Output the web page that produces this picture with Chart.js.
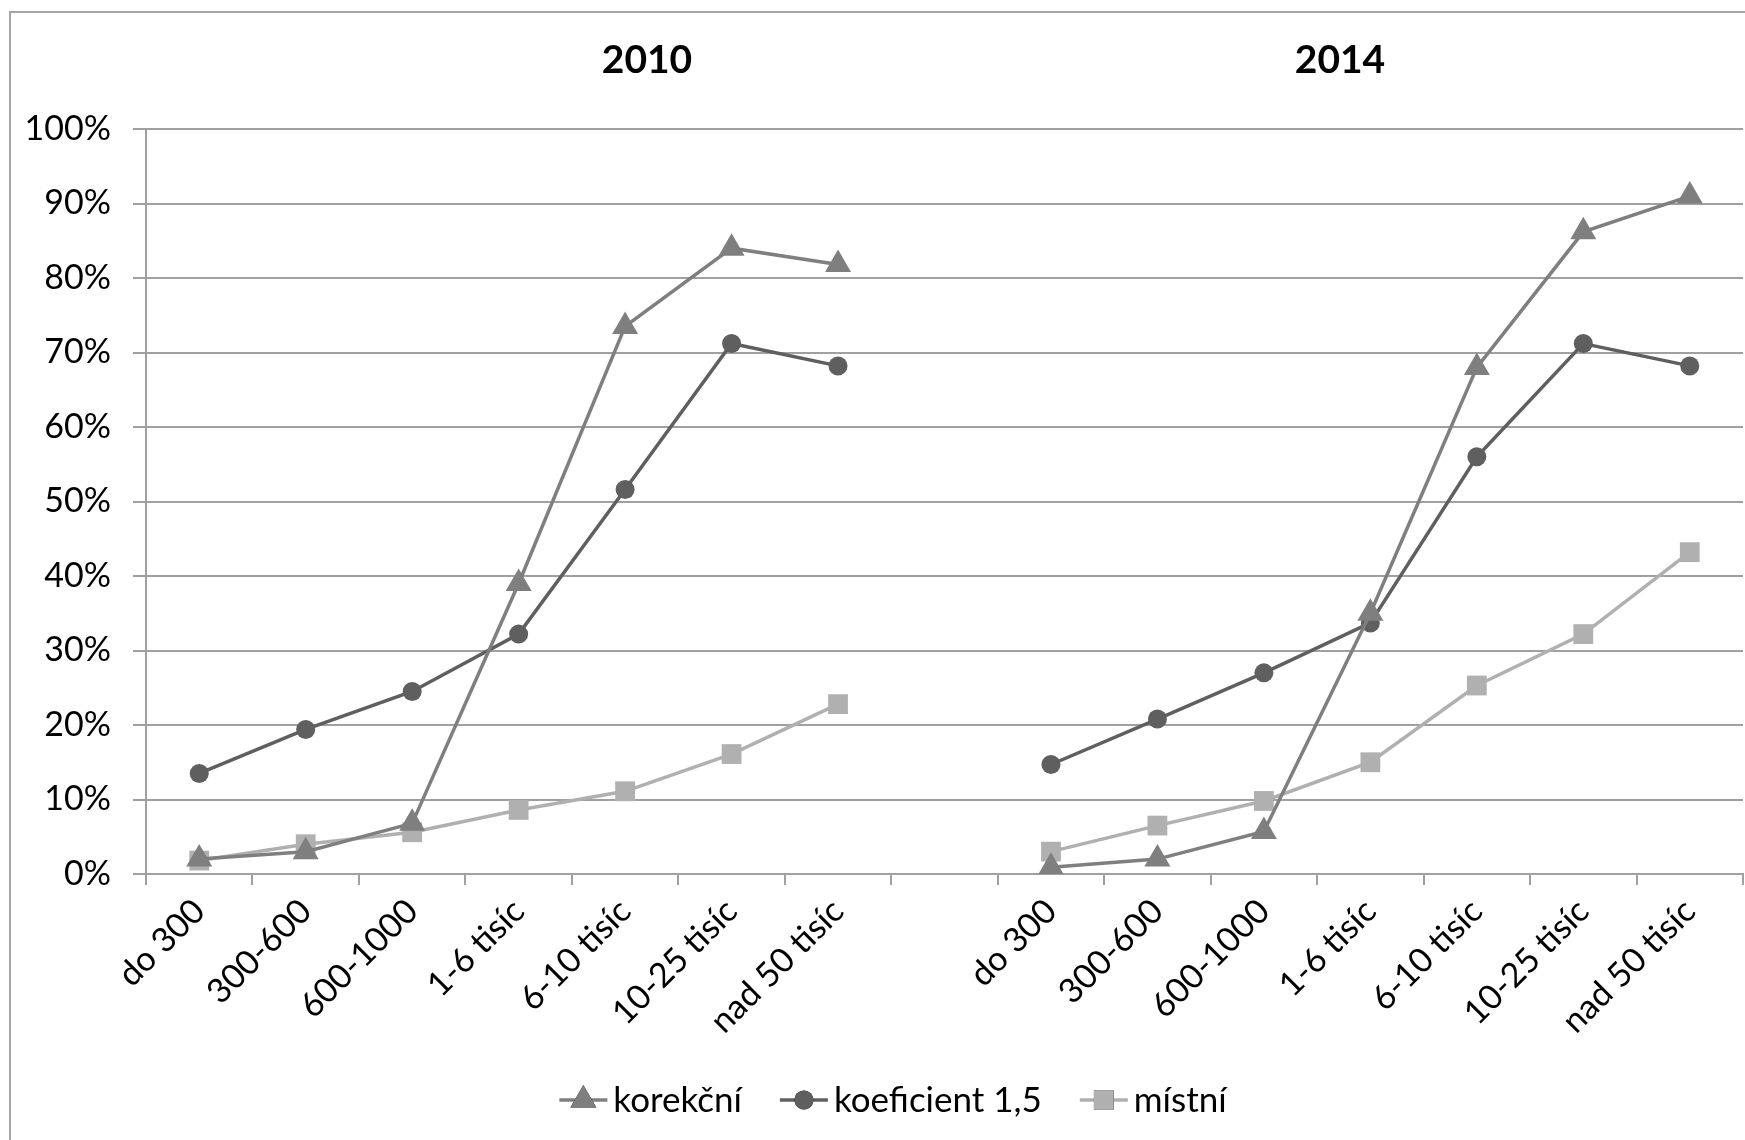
<!DOCTYPE html>
<html lang="cs">
<head>
  <meta charset="UTF-8">
  <title>2010 / 2014</title>
  <script src="https://cdn.jsdelivr.net/npm/chart.js"></script>
  <style>
    html, body { margin:0; padding:0; background:#fff; overflow:hidden; }
    #wrap { width:1745px; height:1140px; position:relative; }
  </style>
</head>
<body>
  <div id="wrap"><canvas id="graf"></canvas></div>

  <script>
    /* ---------- data ---------- */
    const kategorie = ['do 300', '300-600', '600-1000', '1-6 tisíc', '6-10 tisíc', '10-25 tisíc', 'nad 50 tisíc',
                       '',
                       'do 300', '300-600', '600-1000', '1-6 tisíc', '6-10 tisíc', '10-25 tisíc', 'nad 50 tisíc'];

    const korekcni   = [2.0, 3.0, 6.8, 39.0, 73.5, 84.0, 81.8,  null,  0.9, 2.0, 5.7, 35.0, 68.0, 86.2, 91.0];
    const koeficient = [13.5, 19.4, 24.5, 32.2, 51.6, 71.2, 68.2, null, 14.7, 20.8, 27.0, 33.7, 56.0, 71.2, 68.2];
    const mistni     = [1.8, 4.0, 5.6, 8.6, 11.1, 16.1, 22.8,   null,  3.0, 6.5, 9.8, 15.0, 25.3, 32.2, 43.2];

    const roky = ['2010', '2014'];

    const FONT = 'Lato, "Open Sans", sans-serif';

    /* ---------- pluginy: rámeček, nadpisy, legenda ---------- */
    const ramecek = {
      id: 'ramecek',
      beforeDraw(chart) {
        const c = chart.ctx;
        c.save();
        c.strokeStyle = '#a6a6a6';
        c.lineWidth = 2;
        c.strokeRect(10, 12, chart.width + 20, chart.height + 20);
        c.restore();
      }
    };

    const nadpisy = {
      id: 'nadpisy',
      afterDraw(chart) {
        const c = chart.ctx;
        c.save();
        c.font = 'bold 39px ' + FONT;
        c.fillStyle = '#000';
        c.textAlign = 'center';
        c.textBaseline = 'middle';
        c.fillText(roky[0], 647, 60);
        c.fillText(roky[1], 1340, 60);
        c.restore();
      }
    };

    const legenda = {
      id: 'legenda',
      afterDraw(chart) {
        const c = chart.ctx;
        const y = 1100;
        c.save();
        c.font = '35px ' + FONT;
        c.textBaseline = 'middle';
        c.fillStyle = '#000';
        const sym = 48, gap = 6, mezera = 38;
        const sets = chart.data.datasets;
        let total = 0;
        sets.forEach((d, i) => {
          total += sym + gap + c.measureText(d.label).width + (i < sets.length - 1 ? mezera : 0);
        });
        let x = 893 - total / 2;
        sets.forEach(d => {
          c.strokeStyle = d.borderColor;
          c.lineWidth = d.borderWidth;
          c.beginPath();
          c.moveTo(x, y);
          c.lineTo(x + sym, y);
          c.stroke();
          Chart.helpers.drawPoint(c, {
            pointStyle: d.pointStyle, radius: d.pointRadius, borderWidth: 0
          }, x + sym / 2, y);
          c.fillStyle = d.pointBackgroundColor;
          c.fill();
          c.fillStyle = '#000';
          c.fillText(d.label, x + sym + gap, y + 1);
          x += sym + gap + c.measureText(d.label).width + mezera;
        });
        c.restore();
      }
    };

    const serie = (label, data, barva, styl, r) => ({
      label, data,
      borderColor: barva,
      backgroundColor: barva,
      pointBackgroundColor: barva,
      pointBorderColor: barva,
      pointBorderWidth: 0,
      borderWidth: 3.5,
      pointStyle: styl,
      pointRadius: r,
      pointHoverRadius: r,
      tension: 0,
      spanGaps: false
    });

    new Chart(document.getElementById('graf'), {
      type: 'line',
      data: {
        labels: kategorie,
        datasets: [
          serie('korekční',       korekcni,   '#7f7f7f', 'triangle', 15),
          serie('koeficient 1,5', koeficient, '#5f5f5f', 'circle',   9.5),
          serie('místní',         mistni,     '#b0b0b0', 'rect',     14)
        ]
      },
      options: {
        responsive: true,
        maintainAspectRatio: false,
        animation: false,
        layout: { autoPadding: false, padding: { left: 0, right: 2, top: 129, bottom: 0 } },
        plugins: { legend: { display: false }, tooltip: { enabled: false } },
        scales: {
          x: {
            offset: true,
            grid: { drawOnChartArea: false, offset: true, tickLength: 11,
                    color: '#a0a0a0', lineWidth: 2 },
            border: { color: '#a0a0a0', width: 2 },
            ticks: { minRotation: 45, maxRotation: 45, autoSkip: false, padding: 6,
                     color: '#000', font: { family: FONT, size: 34 } },
            afterFit: s => { s.height = 266; s.paddingLeft = 0; s.paddingRight = 0; }
          },
          y: {
            min: 0, max: 100,
            ticks: { stepSize: 10, padding: 22, color: '#000',
                     font: { family: FONT, size: 34 },
                     callback: v => v + '%' },
            grid: { color: '#a0a0a0', lineWidth: 2, tickLength: 13 },
            border: { color: '#a0a0a0', width: 2 },
            afterFit: s => { s.width = 146; s.paddingTop = 0; s.paddingBottom = 0; }
          }
        }
      },
      plugins: [ramecek, nadpisy, legenda]
    });
  </script>
</body>
</html>
